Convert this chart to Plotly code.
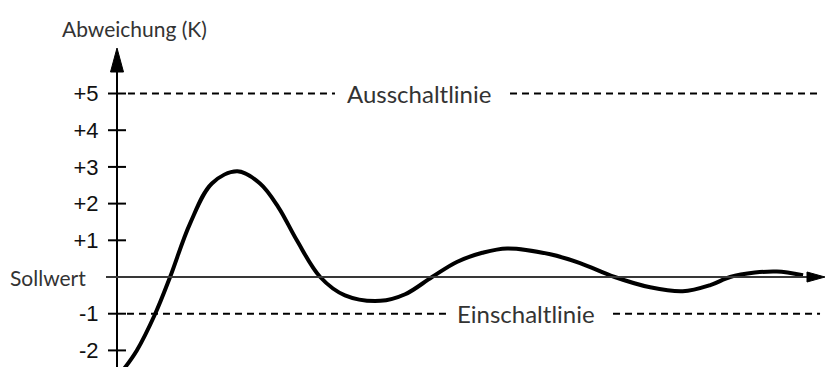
import plotly.graph_objects as go

# Deviation of a controlled temperature from its setpoint over time
time_s = [0.06, 0.28, 0.54, 0.75, 1.03, 1.34, 1.70, 2.02, 2.28, 2.54,
          2.87, 3.22, 3.72, 4.07, 4.45, 4.80, 5.16, 5.51, 6.12, 6.54, 7.03, 7.53,
          7.99, 8.38, 8.66, 9.01, 9.32, 9.69]
deviation_k = [-2.6, -2.0, -1.0, 0.0, 1.45, 2.55, 2.88, 2.55, 1.9, 1.0,
               0.0, -0.5, -0.65, -0.47, 0.0, 0.41, 0.66, 0.78, 0.62, 0.38, 0.0, -0.28,
               -0.39, -0.22, 0.0, 0.12, 0.15, 0.05]

tick_values = [-2, -1, 1, 2, 3, 4, 5]
tick_labels = ["-2", "-1", "+1", "+2", "+3", "+4", "+5"]

switch_off_level = 5
switch_on_level = -1

# axis geometry (data units)
X_RANGE = [-1.6525, 10.0]
Y_RANGE = [-2.452, 7.548]
PX_X = 825 / (X_RANGE[1] - X_RANGE[0])   # pixels per time unit
PX_Y = 367 / (Y_RANGE[1] - Y_RANGE[0])   # pixels per kelvin

fig = go.Figure()
fig.add_trace(go.Scatter(
    x=time_s, y=deviation_k, mode="lines",
    line=dict(color="black", width=4, shape="spline", smoothing=1.0),
    hoverinfo="skip",
))

shapes = []
# vertical axis with arrow head
y_tip = 6.24
shapes.append(dict(type="line", xref="x", yref="y", x0=0, x1=0, y0=-3, y1=y_tip - 0.5,
                   line=dict(color="black", width=2)))
hw, hh = 6.5 / PX_X, 24 / PX_Y
shapes.append(dict(type="path", xref="x", yref="y",
                   path=f"M0,{y_tip} L{-hw},{y_tip - hh} L{hw},{y_tip - hh} Z",
                   fillcolor="black", line=dict(color="black", width=1)))
# setpoint line with arrow head
x_tip = X_RANGE[1]
shapes.append(dict(type="line", xref="x", yref="y", x0=-11 / PX_X, x1=x_tip - 12 / PX_X,
                   y0=0, y1=0, line=dict(color="#383838", width=2)))
aw, ah = 18 / PX_X, 5 / PX_Y
shapes.append(dict(type="path", xref="x", yref="y",
                   path=f"M{x_tip},0 L{x_tip - aw},{ah} L{x_tip - aw},{-ah} Z",
                   fillcolor="black", line=dict(color="black", width=1)))
# tick marks crossing the vertical axis
for v in tick_values:
    shapes.append(dict(type="line", xref="x", yref="y", xsizemode="pixel", xanchor=0,
                       x0=-9, x1=9, y0=v, y1=v, line=dict(color="black", width=2)))
# dashed switching lines, interrupted by their labels
dash_style = dict(color="black", width=2, dash="7px,5px")
for lvl, segs in [(switch_off_level, [(0.155, 3.079), (5.551, 9.93)]),
                  (switch_on_level, [(0.141, 4.661), (7.006, 9.93)])]:
    for a, b in segs:
        shapes.append(dict(type="line", xref="x", yref="y", x0=a, x1=b, y0=lvl, y1=lvl,
                           line=dash_style))

text_family = "Lato, Open Sans, sans-serif"
label_font = dict(family=text_family, size=24, color="#333333")
annotations = [
    dict(x=4.27, y=switch_off_level, xref="x", yref="y", text="Ausschaltlinie",
         showarrow=False, font=label_font, xanchor="center", yanchor="middle"),
    dict(x=5.777, y=switch_on_level, xref="x", yref="y", text="Einschaltlinie",
         showarrow=False, font=label_font, xanchor="center", yanchor="middle"),
    dict(x=-29 / PX_X, y=0, xref="x", yref="y", text="Sollwert",
         showarrow=False, font=dict(family=text_family, size=21, color="#333333"),
         xanchor="right", yanchor="middle"),
    dict(x=134 / 825, y=1 - 28 / 367, xref="paper", yref="paper", text="Abweichung (K)",
         showarrow=False, font=dict(family=text_family, size=21, color="#333333"),
         xanchor="center", yanchor="middle"),
]

fig.update_layout(
    width=825, height=367,
    margin=dict(l=0, r=0, t=0, b=0),
    paper_bgcolor="white", plot_bgcolor="white",
    showlegend=False,
    template="none",
    xaxis=dict(range=X_RANGE, visible=False, fixedrange=True),
    yaxis=dict(range=Y_RANGE, anchor="free", position=-X_RANGE[0] / (X_RANGE[1] - X_RANGE[0]),
               showline=False, showgrid=False, zeroline=False,
               tickvals=tick_values, ticktext=tick_labels,
               ticks="outside", ticklen=14, tickcolor="rgba(0,0,0,0)",
               tickfont=dict(family="Liberation Sans, Arial, sans-serif", size=22, color="#111111"),
               automargin=False, fixedrange=True),
    shapes=shapes,
    annotations=annotations,
)

fig.write_html("out.html")
